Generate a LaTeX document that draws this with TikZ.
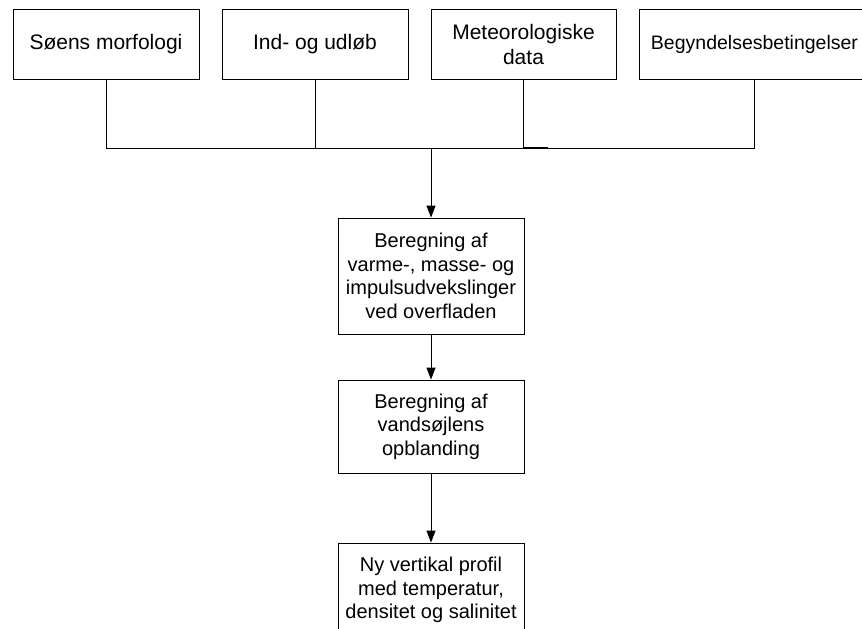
\documentclass[tikz,border=0pt]{standalone}
\usepackage{fontspec}
\setmainfont{Liberation Sans}
\usetikzlibrary{arrows.meta}
\begin{document}
\begin{tikzpicture}[x=1pt,y=-1pt,
  box/.style={draw=black, line width=0.9pt, inner sep=0pt, align=center,
    font=\fontsize{20}{23.5}\selectfont},
  topbox/.style={box, minimum height=70pt, font=\fontsize{21}{25}\selectfont},
  conn/.style={line width=0.9pt},
  arr/.style={conn, -{Triangle[width=9pt,length=12pt]}}]
\useasboundingbox (0,0) rectangle (862,629);
\clip (0,0) rectangle (862,629);
\node[topbox, minimum width=186pt] (a) at (106,44) {Søens morfologi};
\node[topbox, minimum width=186pt] (b) at (315,44) {Ind- og udløb};
\node[topbox, minimum width=185pt] (c) at (523.5,44) {Meteorologiske\\data};
\node[topbox, minimum width=231pt, font=\fontsize{19.5}{23.5}\selectfont] (d) at (754.5,44) {Begyndelsesbetingelser};
\node[box, minimum width=186pt, minimum height=116pt] (m1) at (431,276) {Beregning af\\varme-, masse- og\\impulsudvekslinger\\ved overfladen};
\node[box, minimum width=186pt, minimum height=93pt] (m2) at (431,426.5) {Beregning af\\vandsøjlens\\opblanding};
\node[box, minimum width=186pt, minimum height=94pt] (m3) at (431,590) {Ny vertikal profil\\med temperatur,\\densitet og salinitet};
\coordinate (hl) at (106,148);
\coordinate (jc) at (431,148);
\draw[conn] (a.south) -- (a.south |- hl) -- (d.south |- hl) -- (d.south);
\draw[conn] (b.south) -- (b.south |- hl);
\draw[conn] (c.south) -- (c.south |- hl);
\draw[line width=1.2pt] (c.south |- hl) -- ++(24,0);
\draw[arr] (jc) -- (m1.north);
\draw[arr] (m1.south) -- (m2.north);
\draw[arr] (m2.south) -- (m3.north);
\end{tikzpicture}
\end{document}
